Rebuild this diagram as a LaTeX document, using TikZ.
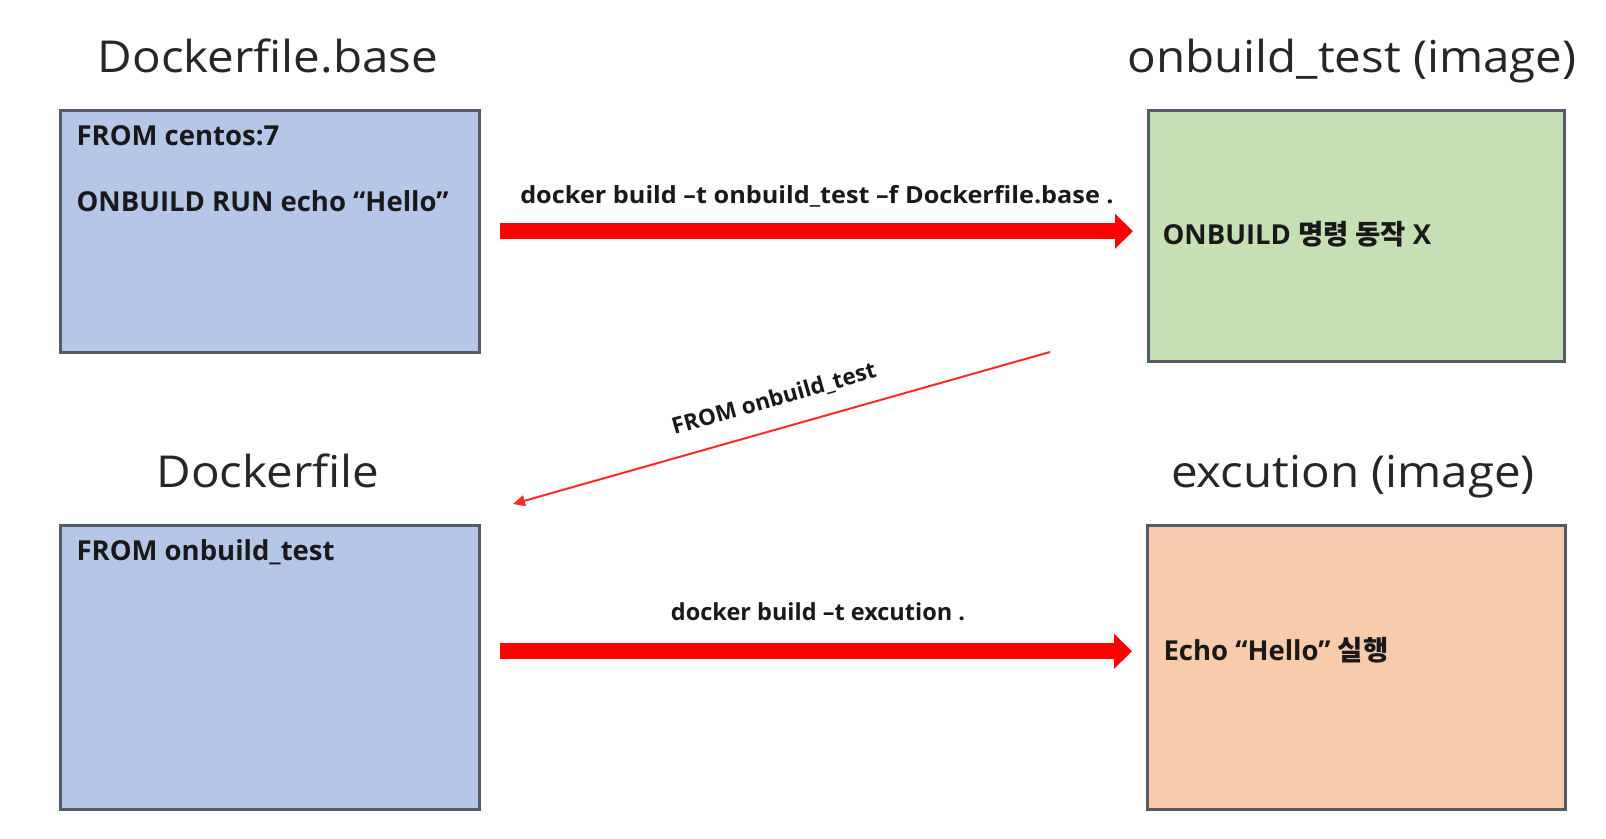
\documentclass[tikz,border=0pt]{standalone}
\usepackage{fontspec}
\setmainfont{Open Sans}
\newfontfamily\kr{Noto Sans CJK KR}
\newfontfamily\titlefont[FakeStretch=1.08]{Open Sans}
\newfontfamily\widelabel[FakeStretch=1.07]{Open Sans}
\usetikzlibrary{arrows.meta}
\definecolor{bluef}{HTML}{B4C7E7}
\definecolor{greenf}{HTML}{C5E0B4}
\definecolor{orangef}{HTML}{F8CBAD}
\definecolor{edgec}{HTML}{555B66}
\definecolor{arrred}{HTML}{FF0000}
\definecolor{thinred}{HTML}{FF2A2A}
\tikzset{
  box/.style={draw=edgec, line width=2.5pt, anchor=north west, inner sep=0pt},
  title/.style={anchor=base, font=\titlefont\fontsize{44}{50}\selectfont, text=black!85},
  boxtext/.style={anchor=base west, font=\bfseries\fontsize{27.5}{32}\selectfont, text=black!90},
  arrlabel/.style={anchor=base, font=\bfseries\fontsize{23.5}{28}\selectfont, text=black!90},
  bigarrow/.style={draw=arrred, line width=16pt, -{Triangle[length=18pt,width=34pt]}, shorten <=19pt, shorten >=14pt},
  thinarrow/.style={draw=thinred, line width=2pt, -{Triangle[length=12pt,width=11pt]}}
}
\begin{document}
\begin{tikzpicture}[x=1pt,y=-1pt]
\useasboundingbox[fill=white] (0,0) rectangle (1606,838);
% boxes
\node[box, fill=bluef, minimum width=419pt, minimum height=242pt] (b1) at (59,109) {};
\node[box, fill=greenf, minimum width=416pt, minimum height=251pt] (b2) at (1147,109) {};
\node[box, fill=bluef, minimum width=419pt, minimum height=284pt] (b3) at (59,524) {};
\node[box, fill=orangef, minimum width=418pt, minimum height=284pt] (b4) at (1146,524) {};
% titles
\node[title] (t1) at (268,72) {Dockerfile.base};
\node[title] (t2) at (1352,72) {onbuild\_test (image)};
\node[title] (t3) at (268,487) {Dockerfile};
\node[title] (t4) at (1353,487) {excution (image)};
% box texts
\node[boxtext] (x1) at (73,145) {FROM centos:7};
\node[boxtext] (x2) at (73,211) {ONBUILD RUN echo “Hello”};
\node[boxtext] (x3) at (1159,244) {ONBUILD {\kr 명령 동작} X};
\node[boxtext] (x4) at (73,560) {FROM onbuild\_test};
\node[boxtext] (x5) at (1160,660) {Echo “Hello” {\kr 실행}};
% big arrows
\draw[bigarrow] (b1.east) -- (b1.east -| b2.west);
\draw[bigarrow] ([yshift=16pt]b3.east) -- ([yshift=16pt]b3.east -| b4.west);
\node[arrlabel, font=\widelabel\bfseries\fontsize{23.6}{28}\selectfont] (l1) at (817,203) {docker build –t onbuild\_test –f Dockerfile.base .};
\node[arrlabel] (l2) at (818,620) {docker build –t excution .};
% diagonal arrow
\coordinate (ds) at (1050,352);
\coordinate (de) at (513,504);
\draw[thinarrow] (ds) -- (de);
\node[anchor=base, rotate=15.8, font=\bfseries\fontsize{22.5}{26}\selectfont, text=black!90] (l3) at (776,406) {FROM onbuild\_test};
\end{tikzpicture}
\end{document}
